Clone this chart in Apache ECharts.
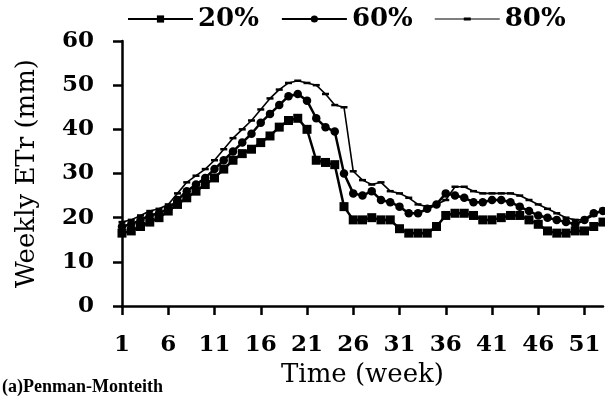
<!DOCTYPE html>
<html><head><meta charset="utf-8">
<script src="https://cdn.jsdelivr.net/npm/echarts@6/dist/echarts.min.js"></script>
<style>html,body{margin:0;padding:0;background:#fff}#c{width:605px;height:398px}</style>
</head><body><div id="c"></div>
<script>
var weeks = [];
for (var i = 1; i <= 53; i++) weeks.push(String(i));
var s20 = [16.5,17,18,19,20,21.5,23,24.5,26,27.5,29,31,33,34.5,35.5,37,38.5,40.5,42,42.5,40,33,32.5,32,22.5,19.5,19.5,20,19.5,19.5,17.5,16.5,16.5,16.5,18,20.5,21,21,20.5,19.5,19.5,20,20.5,20.5,19.5,18.5,17,16.5,16.5,17,17,18,19];
var s60 = [18,18.5,19.5,20.5,21,22,24,26,27.5,29,31,33,35,37,39,41.5,43.5,45.5,47.5,48,46.5,42.5,40.5,39.5,30,25.5,25,26,24,23.5,22.5,21,21,22,23,25.5,25,24.5,23.5,23.5,24,24,23.5,22.5,21.5,20.5,20,19.5,19,18.5,19.5,21,21.5];
var s80 = [19,19.5,20.5,21.5,22,23,25.5,28,29.5,31,33,35.5,38,40,42,44.5,47,49,50.5,51,50.5,50,48,45.5,45,30.5,28.5,27.5,28,26,25.5,24.5,23,22.5,23,24,27,27,26,25.5,25.5,25.5,25.5,25,24,23,22,21,20,19.5,19.5,20.5,22];
var names = ['20%','60%','80%'];
var yTicks = [0,10,20,30,40,50,60];

var chart = echarts.init(document.getElementById('c'));
var serif = 'DejaVu Serif';
chart.setOption({
  animation: false,
  backgroundColor: '#fff',
  legend: {
    top: 1, left: 122,
    itemWidth: 65, itemHeight: 9, itemGap: 22,
    textStyle: {fontFamily: serif, fontWeight: 'bold', fontSize: 26, color: '#000'},
    data: [names[0], names[1],
      {name: names[2], icon: 'path://M0,3.9L65,3.9L65,5.1L0,5.1Z M29,3L36,3L36,6L29,6Z M0,0L0.01,0L0,0.01Z M0,9L0.01,9L0,8.99Z'}]
  },
  grid: {left: 122, right: 2, top: 41, bottom: 92},
  xAxis: {
    type: 'category', data: weeks, boundaryGap: false,
    name: 'Time (week)', nameLocation: 'middle', nameGap: 31,
    nameTextStyle: {fontFamily: serif, fontSize: 26, color: '#000'},
    axisLine: {lineStyle: {color: '#000', width: 2.5}},
    axisTick: {interval: 4, length: 9, lineStyle: {color: '#000', width: 2.5}},
    axisLabel: {interval: 4, fontFamily: serif, fontWeight: 'bold', fontSize: 23, color: '#000', margin: 28}
  },
  yAxis: {
    type: 'value', min: yTicks[0], max: yTicks[yTicks.length-1], interval: 10,
    name: 'Weekly ETr (mm)', nameLocation: 'middle', nameGap: 82,
    nameTextStyle: {fontFamily: serif, fontSize: 26, color: '#000'},
    splitLine: {show: false},
    axisLine: {show: true, lineStyle: {color: '#000', width: 2.5}},
    axisTick: {show: true, length: 9, lineStyle: {color: '#000', width: 2.5}},
    axisLabel: {fontFamily: serif, fontWeight: 'bold', fontSize: 23, color: '#000', margin: 28}
  },
  graphic: [{type: 'text', left: 2, top: 378, style: {text: '(a)Penman-Monteith', fontFamily: 'Liberation Serif', fontWeight: 'bold', fontSize: 18, fill: '#000'}}],
  series: [
    {name: names[0], type: 'line', data: s20, symbol: 'rect', symbolSize: 9, showAllSymbol: true,
     lineStyle: {color: '#000', width: 2.5}, itemStyle: {color: '#000'}},
    {name: names[1], type: 'line', data: s60, symbol: 'circle', symbolSize: 8.5, showAllSymbol: true,
     lineStyle: {color: '#000', width: 2.5}, itemStyle: {color: '#000'}},
    {name: names[2], type: 'line', data: s80, symbol: 'rect', symbolSize: [7, 2.5], showAllSymbol: true,
     lineStyle: {color: '#000', width: 1.6}, itemStyle: {color: '#000'}}
  ]
});
</script></body></html>
